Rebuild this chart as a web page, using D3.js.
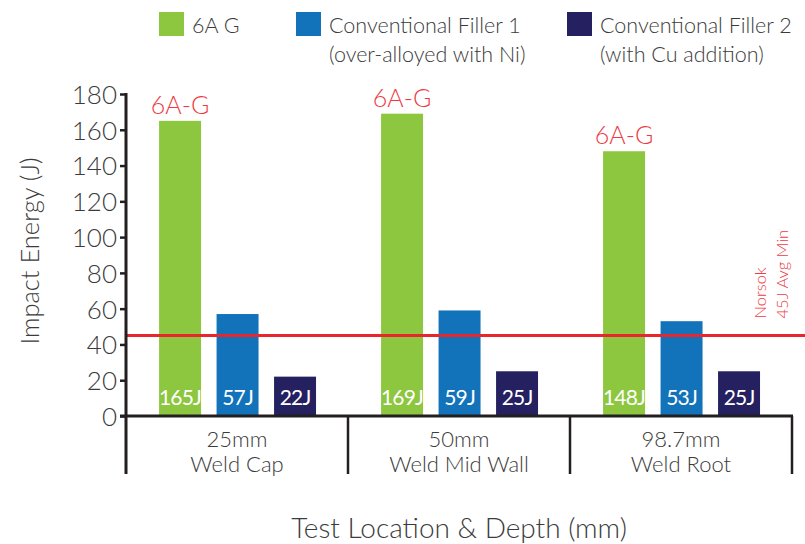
<!DOCTYPE html>
<html>
<head>
<meta charset="utf-8">
<script src="https://cdn.jsdelivr.net/npm/d3@7"></script>
<style>
  html, body { margin: 0; padding: 0; background: #ffffff; }
  svg { display: block; font-family: "Lato", "Open Sans", sans-serif; }
</style>
</head>
<body>
<svg id="chart" width="805" height="544"></svg>
<script>
// Charpy impact energy by test location
const categories = ["25mm|Weld Cap", "50mm|Weld Mid Wall", "98.7mm|Weld Root"];
const seriesNames = ["6A G", "Conventional Filler 1|(over-alloyed with Ni)", "Conventional Filler 2|(with Cu addition)"];
const series6AG = [165, 169, 148];
const seriesFiller1 = [57, 59, 53];
const seriesFiller2 = [22, 25, 25];
const yTicks = [0, 20, 40, 60, 80, 100, 120, 140, 160, 180];
const norsokMin = 45;
const seriesColors = ["#8dc63f", "#1273ba", "#252060"];

const allSeries = [series6AG, seriesFiller1, seriesFiller2];
const rows = categories.map((c, i) => ({
  cat: c,
  vals: allSeries.map((s, k) => ({ key: k, value: s[i] }))
}));

const svg = d3.select("#chart");
const textColor = "#3b3b3b";
const red = "#e8262d";

const x = d3.scaleBand().domain(categories).range([126, 792]).padding(0);
const xInner = d3.scaleBand().domain([0, 1, 2])
  .range([x.bandwidth() * 0.149, x.bandwidth() * 0.856])
  .paddingInner(0.27).paddingOuter(0);
const y = d3.scaleLinear().domain([0, 180]).range([416, 94]);

// bars
const groups = svg.append("g").selectAll("g").data(rows).join("g")
  .attr("transform", d => `translate(${x(d.cat)},0)`);

groups.selectAll("rect").data(d => d.vals).join("rect")
  .attr("x", d => xInner(d.key))
  .attr("width", xInner.bandwidth())
  .attr("y", d => y(d.value))
  .attr("height", d => y(0) - y(d.value))
  .attr("fill", d => seriesColors[d.key]);

// value labels inside bars
groups.selectAll("text.val").data(d => d.vals).join("text")
  .attr("class", "val")
  .attr("x", d => xInner(d.key) + xInner.bandwidth() / 2)
  .attr("y", 405)
  .attr("text-anchor", "middle")
  .attr("fill", "#ffffff")
  .attr("font-size", 21)
  .attr("font-weight", 400)
  .attr("letter-spacing", -0.8)
  .text(d => d.value + "J");

// "6A-G" callouts above green bars
groups.append("text")
  .attr("x", d => xInner(0) + xInner.bandwidth() / 2)
  .attr("y", d => y(d.vals[0].value) - 7)
  .attr("text-anchor", "middle")
  .attr("fill", "#ee3a43")
  .attr("font-size", 25)
  .attr("font-weight", 300)
  .text("6A-G");

// Norsok minimum line
svg.append("line")
  .attr("x1", 127).attr("x2", 805)
  .attr("y1", y(norsokMin)).attr("y2", y(norsokMin))
  .attr("stroke", red).attr("stroke-width", 3);

const norsokLbl = svg.append("text")
  .attr("transform", `translate(0,${y(norsokMin) - 17}) rotate(-90)`)
  .attr("fill", "#ee3a43")
  .attr("font-size", 16.5)
  .attr("font-weight", 300);
norsokLbl.append("tspan").attr("x", 0).attr("y", 766).text("Norsok");
norsokLbl.append("tspan").attr("x", 0).attr("y", 788).text("45J Avg Min");

// y axis
const yAxis = d3.axisLeft(y).tickValues(yTicks).tickSize(6).tickPadding(3);
const yg = svg.append("g").attr("transform", "translate(126,0)").call(yAxis);
yg.select(".domain").remove();
yg.selectAll(".tick line").attr("stroke", "#231f20").attr("stroke-width", 2.5);
yg.selectAll(".tick text")
  .attr("fill", textColor)
  .attr("font-size", 26)
  .attr("font-weight", 300)
  .attr("font-family", "Lato, sans-serif")
  .attr("dy", "0.36em");

svg.append("line")
  .attr("x1", 126).attr("x2", 126).attr("y1", 93).attr("y2", 474)
  .attr("stroke", "#231f20").attr("stroke-width", 3);

// baseline
svg.append("line")
  .attr("x1", 120).attr("x2", 793).attr("y1", y(0)).attr("y2", y(0))
  .attr("stroke", "#231f20").attr("stroke-width", 3);

// category dividers
const edges = categories.map(c => x(c)).concat([x.range()[1]]).slice(1);
svg.append("g").selectAll("line").data(edges).join("line")
  .attr("x1", d => d).attr("x2", d => d)
  .attr("y1", y(0)).attr("y2", 474)
  .attr("stroke", "#231f20").attr("stroke-width", 2.5);

// category labels
const catText = svg.append("g").selectAll("text").data(categories).join("text")
  .attr("text-anchor", "middle")
  .attr("fill", textColor)
  .attr("font-size", 22)
  .attr("font-weight", 300);
catText.append("tspan")
  .attr("x", d => x(d) + x.bandwidth() / 2).attr("y", 447)
  .text(d => d.split("|")[0]);
catText.append("tspan")
  .attr("x", d => x(d) + x.bandwidth() / 2).attr("y", 472)
  .text(d => d.split("|")[1]);

// axis titles
svg.append("text")
  .attr("transform", "translate(39,251) rotate(-90)")
  .attr("text-anchor", "middle")
  .attr("fill", textColor)
  .attr("font-size", 25.5)
  .attr("font-weight", 300)
  .text("Impact Energy (J)");

svg.append("text")
  .attr("x", 459).attr("y", 538)
  .attr("text-anchor", "middle")
  .attr("fill", textColor)
  .attr("font-size", 28)
  .attr("font-weight", 300)
  .text("Test Location & Depth (mm)");

// legend
const legendX = [159, 296, 567];
const legend = svg.append("g").selectAll("g").data(seriesNames).join("g")
  .attr("transform", (d, i) => `translate(${legendX[i]},12)`);
legend.append("rect")
  .attr("width", 25).attr("height", 24)
  .attr("fill", (d, i) => seriesColors[i]);
const legText = legend.append("text")
  .attr("fill", textColor)
  .attr("font-size", 21.5)
  .attr("font-weight", 300);
legText.append("tspan").attr("x", 33).attr("y", 21).text(d => d.split("|")[0]);
legText.filter(d => d.includes("|")).append("tspan")
  .attr("x", 33).attr("y", 50).text(d => d.split("|")[1]);
</script>
</body>
</html>
